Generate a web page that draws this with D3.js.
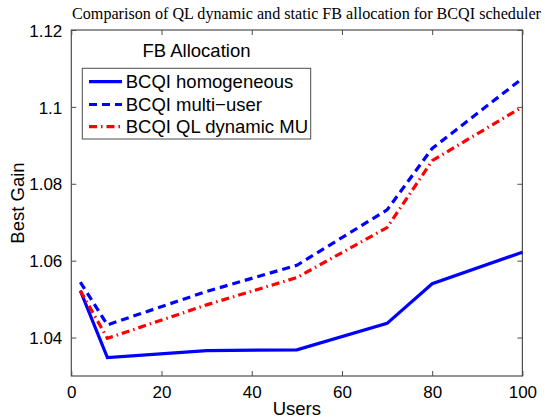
<!DOCTYPE html>
<html>
<head>
<meta charset="utf-8">
<script src="https://cdn.jsdelivr.net/npm/d3@7"></script>
<style>
  html, body { margin: 0; padding: 0; background: #fff; }
  svg { display: block; }
</style>
</head>
<body>
<svg id="chart" width="545" height="420"></svg>
<script>
const users = [2, 8, 30, 50, 70, 80, 100];
const homogeneous = [1.0522, 1.0348, 1.0366, 1.0368, 1.0437, 1.0540, 1.0622];
const multiUser = [1.0544, 1.0433, 1.0520, 1.0588, 1.0732, 1.0892, 1.1074];
const qlDynamic = [1.0522, 1.0398, 1.0485, 1.0556, 1.0686, 1.0860, 1.1000];
const seriesNames = ["BCQI homogeneous", "BCQI multi\u2212user", "BCQI QL dynamic MU"];
const xTicks = [0, 20, 40, 60, 80, 100];
const yTicks = [1.04, 1.06, 1.08, 1.1, 1.12];
const title = "Comparison of QL dynamic and static FB allocation for BCQI scheduler";
const legendTitle = "FB Allocation";
const xLabel = "Users";
const yLabel = "Best Gain";

const svg = d3.select("#chart");
const L = 71.3, R = 522.4, T = 30, B = 376;
const x = d3.scaleLinear().domain([0, 100]).range([L, R]);
const y = d3.scaleLinear().domain([1.03, 1.12]).range([B, T]);
const sans = "'Liberation Sans', Arial, Helvetica, sans-serif";
const axisColor = "#4d4d4d";

// Box
svg.append("rect").attr("x", L).attr("y", T).attr("width", R - L).attr("height", B - T)
  .attr("fill", "none").attr("stroke", axisColor).attr("stroke-width", 1.2);

const fmt = d => String(+d.toFixed(2));

// Bottom axis
const gx = svg.append("g").attr("transform", `translate(0,${B})`)
  .call(d3.axisBottom(x).tickValues(xTicks).tickSizeInner(-5).tickSizeOuter(0).tickPadding(10).tickFormat(fmt));
// Top axis ticks
const gxt = svg.append("g").attr("transform", `translate(0,${T})`)
  .call(d3.axisTop(x).tickValues(xTicks).tickSizeInner(-5).tickSizeOuter(0).tickFormat(""));
// Left axis
const gy = svg.append("g").attr("transform", `translate(${L},0)`)
  .call(d3.axisLeft(y).tickValues(yTicks).tickSizeInner(-5).tickSizeOuter(0).tickPadding(9).tickFormat(fmt));
// Right axis ticks
const gyr = svg.append("g").attr("transform", `translate(${R},0)`)
  .call(d3.axisRight(y).tickValues(yTicks).tickSizeInner(-5).tickSizeOuter(0).tickFormat(""));

[gx, gxt, gy, gyr].forEach(g => {
  g.select(".domain").remove();
  g.selectAll("line").attr("stroke", axisColor).attr("stroke-width", 1);
  g.selectAll("text").attr("font-family", sans).attr("font-size", 17).attr("fill", "#000");
});
gy.selectAll("text").attr("dy", "0.36em");

// Lines
const mk = vals => users.map((u, i) => [u, vals[i]]);
const line = d3.line().x(d => x(d[0])).y(d => y(d[1]));
const plot = svg.append("g");
const styles = [
  { data: homogeneous, color: "#0000ff", dash: null },
  { data: multiUser, color: "#0000ff", dash: "8,5" },
  { data: qlDynamic, color: "#ff0000", dash: "8,4,1.5,4" }
];
styles.forEach(s => {
  plot.append("path").datum(mk(s.data)).attr("d", line)
    .attr("fill", "none").attr("stroke", s.color).attr("stroke-width", 3.2)
    .attr("stroke-linejoin", "miter")
    .attr("stroke-dasharray", s.dash);
});

// Legend title
svg.append("text").attr("x", 196.5).attr("y", 56.5).attr("text-anchor", "middle")
  .attr("font-family", sans).attr("font-size", 18.5).text(legendTitle);

// Legend box
svg.append("rect").attr("x", 82.3).attr("y", 68.3).attr("width", 228.4).attr("height", 70.7)
  .attr("fill", "#fff").attr("stroke", axisColor).attr("stroke-width", 1);
const rowsY = [81.7, 104.5, 126.7];
styles.forEach((s, i) => {
  svg.append("line").attr("x1", 89).attr("x2", 122).attr("y1", rowsY[i]).attr("y2", rowsY[i])
    .attr("stroke", s.color).attr("stroke-width", 3.2).attr("stroke-dasharray", s.dash);
  svg.append("text").attr("x", 125.7).attr("y", rowsY[i]).attr("dy", "0.36em")
    .attr("font-family", sans).attr("font-size", 18.5).text(seriesNames[i]);
});

// Title
svg.append("text").attr("x", 72).attr("y", 19).attr("text-anchor", "start")
  .attr("font-family", "'Liberation Serif', 'Times New Roman', serif").attr("font-size", 16.3)
  .attr("textLength", 469).attr("lengthAdjust", "spacingAndGlyphs")
  .text(title);

// Axis labels
svg.append("text").attr("x", (L + R) / 2).attr("y", 415).attr("text-anchor", "middle")
  .attr("font-family", sans).attr("font-size", 18.5).text(xLabel);
svg.append("text").attr("transform", `translate(24,${(T + B) / 2}) rotate(-90)`)
  .attr("text-anchor", "middle").attr("font-family", sans).attr("font-size", 18.5).text(yLabel);
</script>
</body>
</html>
